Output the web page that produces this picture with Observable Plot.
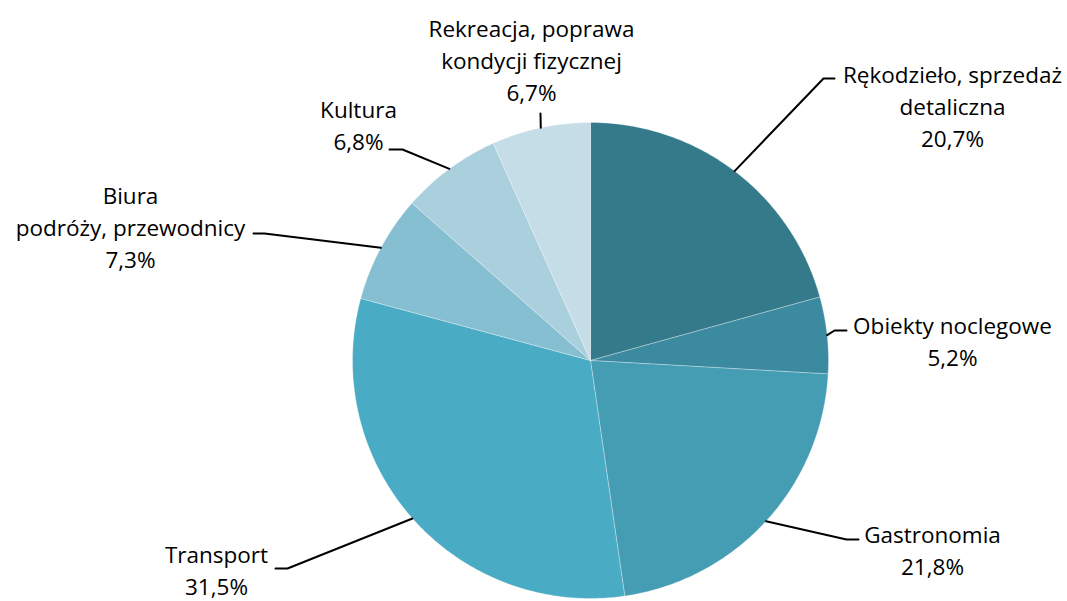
<!DOCTYPE html>
<html>
<head>
<meta charset="utf-8">
<script src="https://cdn.jsdelivr.net/npm/d3@7"></script>
<script src="https://cdn.jsdelivr.net/npm/@observablehq/plot@0.6"></script>
<style>
  html, body { margin: 0; padding: 0; background: #fff; }
  #chart svg { display: block; }
</style>
</head>
<body>
<div id="chart"></div>
<script>
// ---- data ----
const categories = [
  "Rękodzieło, sprzedaż\ndetaliczna",
  "Obiekty noclegowe",
  "Gastronomia",
  "Transport",
  "Biura\npodróży, przewodnicy",
  "Kultura",
  "Rekreacja, poprawa\nkondycji fizycznej"
];
const shares = [20.7, 5.2, 21.8, 31.5, 7.3, 6.8, 6.7];
const shareLabels = ["20,7%", "5,2%", "21,8%", "31,5%", "7,3%", "6,8%", "6,7%"];
const colors = ["#357a8a", "#3b8a9f", "#459db4", "#4aabc5", "#86bfd1", "#aacfdd", "#c5dde6"];

// ---- layout (pixels in the 1067x601 frame) ----
const W = 1067, H = 601;
const CX = 590, CY = 360, R = 238;
// label block centre, leader elbow and leader end
const labelLayout = [
  {lx: 952, ly: 104, elbow: [823, 78], end: [834, 78]},
  {lx: 952, ly: 339, elbow: [834, 330], end: [846, 330]},
  {lx: 932, ly: 548, elbow: [846, 539], end: [858, 539]},
  {lx: 216, ly: 568, elbow: [287, 568], end: [275, 568]},
  {lx: 130, ly: 225, elbow: [264, 233], end: [253, 233]},
  {lx: 358, ly: 123, elbow: [402, 149], end: [389, 149]},
  {lx: 531, ly: 58, elbow: null, end: [540, 113]}
];

const px = (x) => (x - CX) / R;
const py = (y) => (CY - y) / R;

const arcs = d3.pie().sort(null).value(d => d)(shares);

const slices = categories.map((name, i) => {
  const a0 = arcs[i].startAngle, a1 = arcs[i].endAngle;
  const n = Math.max(8, Math.ceil((a1 - a0) / 0.01));
  const pts = [{x: 0, y: 0}];
  for (let k = 0; k <= n; k++) {
    const a = a0 + (a1 - a0) * k / n;
    pts.push({x: Math.sin(a), y: Math.cos(a)});
  }
  pts.push({x: 0, y: 0});
  return {name, color: colors[i], pts};
});

const leaders = [];
categories.forEach((name, i) => {
  const mid = (arcs[i].startAngle + arcs[i].endAngle) / 2;
  const L = labelLayout[i];
  leaders.push({name, x: Math.sin(mid), y: Math.cos(mid)});
  if (L.elbow) leaders.push({name, x: px(L.elbow[0]), y: py(L.elbow[1])});
  leaders.push({name, x: px(L.end[0]), y: py(L.end[1])});
});

const labels = categories.map((name, i) => ({
  text: name + "\n" + shareLabels[i],
  x: px(labelLayout[i].lx),
  y: py(labelLayout[i].ly)
}));

const chart = Plot.plot({
  width: W,
  height: H,
  margin: 0,
  x: {domain: [px(0), px(W)], axis: null},
  y: {domain: [py(H), py(0)], axis: null},
  style: {fontFamily: "'Open Sans', Lato, sans-serif", background: "#fff"},
  marks: [
    ...slices.map(s => Plot.line(s.pts, {
      x: "x", y: "y", fill: s.color, stroke: "#ffffff", strokeWidth: 0.6, strokeOpacity: 0.5
    })),
    Plot.line(leaders, {x: "x", y: "y", z: "name", stroke: "#000", strokeWidth: 2, curve: "linear"}),
    Plot.text(labels, {
      x: "x", y: "y", text: "text",
      fontSize: 22.5, lineHeight: 1.42, lineAnchor: "middle",
      textAnchor: "middle", fill: "#000"
    })
  ]
});
document.getElementById("chart").appendChild(chart);
</script>
</body>
</html>
